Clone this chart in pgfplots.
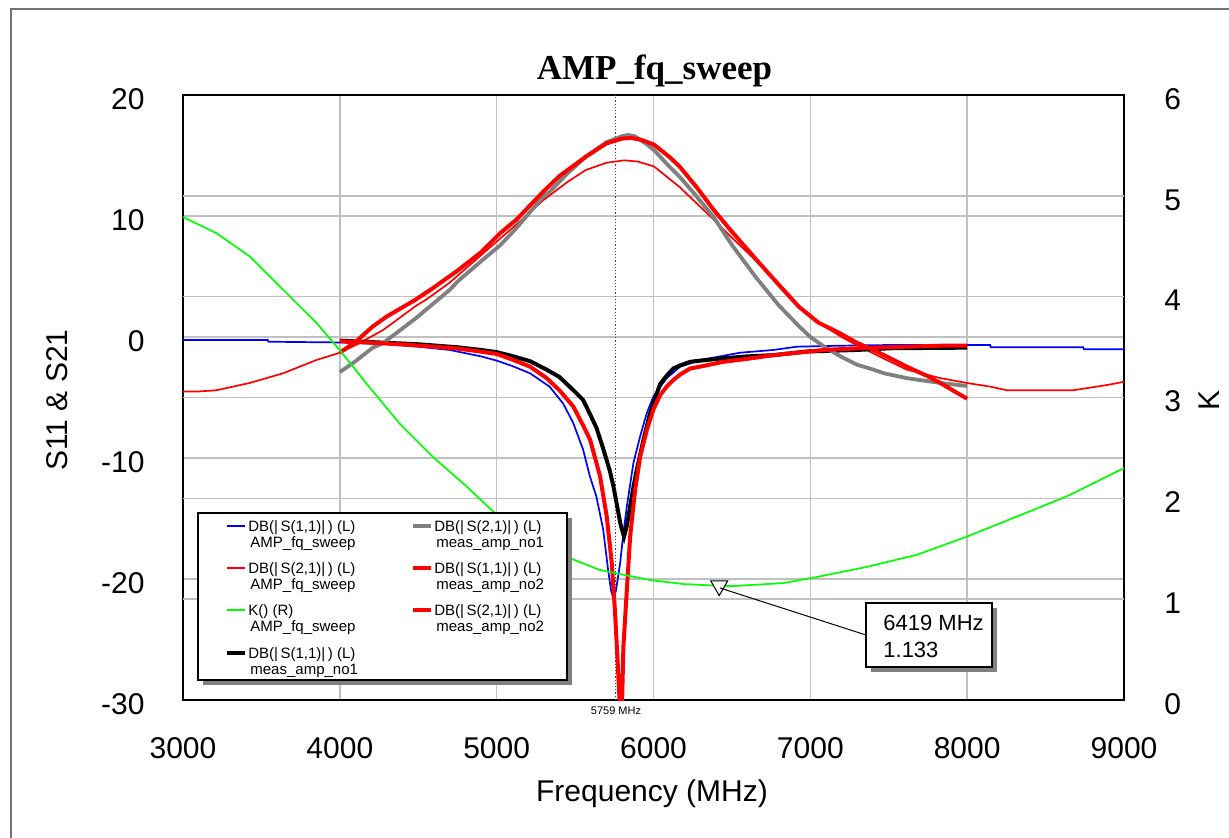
\documentclass[border=0pt]{standalone}
\usepackage{pgfplots}
\pgfplotsset{compat=1.18}
\usepackage{fontspec}
\setmainfont{Liberation Sans}
\newfontfamily\titlefont{Liberation Serif}
\definecolor{gridgray}{RGB}{192,192,192}
\definecolor{measgray}{RGB}{128,128,128}
\definecolor{kgreen}{RGB}{0,255,0}
\definecolor{sblue}{RGB}{0,0,255}
\definecolor{sred}{RGB}{255,0,0}
\newcommand{\legentry}[5]{%
  \draw[#3] (#1,#2) -- ++(18,0);
  \node[anchor=base west, inner sep=0pt] at ({#1+21},{#2+5.5}) {#4};
  \node[anchor=base west, inner sep=0pt] at ({#1+23},{#2+21.5}) {#5};
}
\begin{document}
\begin{tikzpicture}
\useasboundingbox (0,0) rectangle (614.5pt,418.5pt);
\clip (0,0) rectangle (614.5pt,418.5pt);
\begin{scope}[x=0.5pt,y=-0.5pt,shift={(0pt,418.5pt)}]
  \draw[black!55, line width=0.6pt] (11,9) rectangle (1260,870);
\end{scope}

% ---------------- left axis (S11 & S21, dB) ----------------
\begin{axis}[
  at={(91.5pt,68.5pt)}, anchor=south west,
  width=470.5pt, height=302.5pt, scale only axis,
  xmin=3000, xmax=9000, ymin=-30, ymax=20,
  xtick={3000,4000,...,9000}, ytick={-30,-20,...,20},
  extra y ticks={-21.6667,-13.3333,-5,3.3333,11.6667},
  extra y tick labels={},
  extra y tick style={grid=major},
  grid=major,
  major grid style={line width=0.75pt, color=gridgray},
  major tick length=0pt,
  axis line style={line width=1pt, black},
  /pgf/number format/assume math mode=true,
  /pgf/number format/set thousands separator={},
  tick label style={font=\fontsize{15}{18}\selectfont, inner sep=0pt},
  yticklabel style={anchor=east, xshift=-19pt, yshift=-2pt},
  xticklabel style={anchor=north, yshift=-18.5pt},
]
\draw[densely dotted, black!75, line width=0.6pt] (axis cs:5759,-30) -- (axis cs:5759,20);

% DB(|S(1,1)|) AMP_fq_sweep (blue, thin)
\addplot[sblue, line width=0.85pt] coordinates {
(3000,-0.25) (3540,-0.25) (3545,-0.39) (4000,-0.45) (4300,-0.6) (4500,-0.8)
(4700,-1.07) (4900,-1.6) (5000,-1.95) (5100,-2.4) (5213,-3.0) (5337,-4.1)
(5424,-5.5) (5488,-7.1) (5551,-9.3) (5594,-11.5) (5636,-13.2) (5679,-15.9)
(5711,-19.3) (5730,-21.0) (5745,-21.6) (5760,-21.0) (5787,-18.7) (5810,-16.0)
(5830,-14.0) (5872,-10.4) (5915,-8.2) (5957,-6.3) (6000,-4.9) (6084,-3.4)
(6170,-2.45) (6300,-1.9) (6425,-1.6) (6550,-1.3) (6765,-1.07) (6914,-0.80)
(7190,-0.72) (7509,-0.66) (8147,-0.66) (8150,-0.85) (8740,-0.85) (8745,-1.02) (9000,-1.02)
};
% DB(|S(2,1)|) AMP_fq_sweep (red, thin)
\addplot[sred, line width=0.85pt] coordinates {
(3000,-4.5) (3100,-4.5) (3213,-4.4) (3425,-3.8) (3638,-3.0) (3851,-1.9)
(4000,-1.3) (4127,-0.5) (4276,0.58) (4488,2.6) (4552,3.1) (4701,4.5)
(4913,6.9) (5126,9.3) (5296,11.3) (5450,12.8) (5568,13.8) (5700,14.4)
(5813,14.6) (5900,14.5) (6003,14.1) (6166,12.4) (6384,9.7) (6500,8.2)
(6655,6.3) (6800,4.4) (6927,2.5) (7100,0.8) (7199,0.0) (7300,-0.7)
(7470,-1.8) (7615,-2.7) (7829,-3.4) (7998,-3.8) (8147,-4.1) (8253,-4.4)
(8677,-4.4) (8891,-3.97) (9000,-3.7)
};
% DB(|S(1,1)|) meas_amp_no1 (black, thick)
\addplot[black, line width=2pt] coordinates {
(4000,-0.3) (4250,-0.45) (4500,-0.6) (4750,-0.85) (4900,-1.07) (5000,-1.25)
(5107,-1.6) (5213,-2.0) (5319,-2.7) (5400,-3.3) (5489,-4.4) (5551,-5.2)
(5596,-6.4) (5636,-7.5) (5681,-9.3) (5720,-11.0) (5744,-12.3) (5764,-13.7)
(5790,-15.5) (5812,-16.5) (5830,-15.6) (5851,-14.0) (5872,-12.4) (5893,-11.0)
(5936,-8.5) (5978,-6.3) (6021,-4.65) (6042,-3.9) (6084,-3.2) (6127,-2.6)
(6170,-2.35) (6234,-2.05) (6300,-1.95) (6446,-1.76) (6600,-1.6) (6765,-1.5)
(6978,-1.2) (7297,-1.07) (7509,-0.93) (8000,-0.88)
};
% DB(|S(2,1)|) meas_amp_no1 (gray, thick)
\addplot[measgray, line width=1.9pt] coordinates {
(4000,-2.9) (4100,-2.0) (4208,-0.9) (4276,-0.5) (4480,1.5) (4701,3.9)
(4752,4.6) (4913,6.4) (5024,7.6) (5126,9.0) (5296,11.6) (5338,12.0)
(5450,13.5) (5568,14.9) (5700,16.1) (5800,16.6) (5840,16.7) (5880,16.6)
(5950,16.0) (6003,15.45) (6100,14.1) (6166,13.25) (6250,12.0) (6384,9.9)
(6500,7.6) (6655,4.9) (6800,2.6) (6927,0.9) (7000,0.0) (7100,-0.9)
(7199,-1.65) (7300,-2.3) (7403,-2.7) (7470,-3.0) (7615,-3.4) (7829,-3.8) (8000,-4.05)
};
% DB(|S(1,1)|) meas_amp_no2 (red, thick)
\addplot[sred, line width=2pt] coordinates {
(4000,-0.35) (4250,-0.5) (4500,-0.7) (4750,-0.95) (4894,-1.2) (5000,-1.4)
(5107,-1.9) (5213,-2.45) (5319,-3.4) (5400,-4.4) (5489,-5.75) (5551,-7.3)
(5596,-8.5) (5659,-11.5) (5702,-14.85) (5734,-18.7) (5755,-22.8) (5772,-27)
(5787,-31) (5798,-31) (5808,-25.6) (5830,-20.9) (5851,-16.5) (5883,-12.6)
(5915,-9.9) (5957,-7.7) (5999,-6.0) (6042,-4.8) (6084,-4.1) (6127,-3.55)
(6170,-3.1) (6234,-2.6) (6297,-2.45) (6446,-2.05) (6600,-1.8) (6765,-1.5)
(7084,-1.07) (7403,-0.88) (7829,-0.72) (8000,-0.72)
};
% DB(|S(2,1)|) meas_amp_no2 (red, thick)
\addplot[sred, line width=2pt] coordinates {
(4000,-1.3) (4100,-0.4) (4208,0.85) (4300,1.7) (4480,3.06) (4600,4.1)
(4752,5.5) (4900,7.0) (5024,8.6) (5126,9.7) (5296,12.0) (5400,13.3)
(5568,14.9) (5700,16.0) (5800,16.4) (5860,16.45) (5920,16.3) (6003,15.9)
(6100,14.9) (6166,14.1) (6280,12.3) (6384,10.5) (6500,8.7) (6655,6.4)
(6800,4.3) (6927,2.5) (7050,1.2) (7190,0.3) (7300,-0.5) (7403,-1.07)
(7500,-1.7) (7615,-2.45) (7742,-3.2) (7829,-3.8) (7920,-4.5) (8000,-5.1)
};
\end{axis}

% ---------------- right axis (K) ----------------
\begin{axis}[
  at={(91.5pt,68.5pt)}, anchor=south west,
  width=470.5pt, height=302.5pt, scale only axis,
  xmin=3000, xmax=9000, ymin=0, ymax=6,
  hide x axis, axis y line*=right,
  y axis line style={draw=none},
  ytick={0,1,...,6}, major tick length=0pt,
  /pgf/number format/assume math mode=true,
  tick label style={font=\fontsize{15}{18}\selectfont, inner sep=0pt},
  yticklabel style={anchor=west, xshift=20pt, yshift=-2pt},
]
\addplot[kgreen, line width=0.85pt] coordinates {
(3000,4.79) (3213,4.63) (3425,4.40) (3638,4.07) (3851,3.74) (4000,3.47)
(4169,3.14) (4382,2.74) (4594,2.41) (4807,2.12) (4977,1.87) (5200,1.62)
(5445,1.42) (5658,1.29) (5977,1.19) (6191,1.15) (6419,1.133) (6510,1.13)
(6829,1.16) (7041,1.22) (7360,1.32) (7679,1.44) (7998,1.62) (8317,1.82)
(8636,2.02) (9000,2.30)
};
\addplot[only marks, mark=triangle*, mark size=4.9pt,
  mark options={rotate=180, fill=white, draw=black, line width=0.5pt}] coordinates {(6419,1.133)};
\end{axis}

% ---------------- annotations, legend, labels ----------------
\begin{scope}[x=0.5pt,y=-0.5pt,shift={(0pt,418.5pt)}]
  % marker readout
  \draw[black, line width=0.5pt] (720,588) -- (866,635);
  \fill[measgray] (871,608) rectangle (997,672);
  \filldraw[fill=white, draw=black, line width=0.6pt] (866,603) rectangle (992,667);
  \node[anchor=base west, inner sep=0pt, font=\fontsize{11}{13}\selectfont] at (883,630) {6419 MHz};
  \node[anchor=base west, inner sep=0pt, font=\fontsize{11}{13}\selectfont] at (883,657) {1.133};
  % marker frequency
  \node[inner sep=0pt, font=\fontsize{5.5}{6}\selectfont] at (616,711) {5759 MHz};
  % legend
  \fill[measgray] (203,518) rectangle (572,685);
  \filldraw[fill=white, draw=black, line width=0.6pt] (198,513) rectangle (567,680);
  \begin{scope}[font=\fontsize{7.5}{9}\selectfont]
    \legentry{227}{526}{sblue, line width=0.85pt}{DB(|\,S(1,1)|\,) (L)}{AMP\_fq\_sweep}
    \legentry{227}{568}{sred, line width=0.85pt}{DB(|\,S(2,1)|\,) (L)}{AMP\_fq\_sweep}
    \legentry{227}{610}{kgreen, line width=0.85pt}{K() (R)}{AMP\_fq\_sweep}
    \legentry{227}{653}{black, line width=2pt}{DB(|\,S(1,1)|\,) (L)}{meas\_amp\_no1}
    \legentry{413}{526}{measgray, line width=2pt}{DB(|\,S(2,1)|\,) (L)}{meas\_amp\_no1}
    \legentry{413}{568}{sred, line width=2pt}{DB(|\,S(1,1)|\,) (L)}{meas\_amp\_no2}
    \legentry{413}{610}{sred, line width=2pt}{DB(|\,S(2,1)|\,) (L)}{meas\_amp\_no2}
  \end{scope}
  % titles
  \node[anchor=base, inner sep=0pt, font=\titlefont\bfseries\fontsize{17.5}{20}\selectfont] at (654.5,79.5) {AMP\_fq\_sweep};
  \node[anchor=base, inner sep=0pt, font=\fontsize{15}{18}\selectfont] at (652,801) {Frequency (MHz)};
  \node[anchor=base, rotate=90, inner sep=0pt, font=\fontsize{15}{18}\selectfont] at (67,400) {S11 \& S21};
  \node[anchor=base, rotate=90, inner sep=0pt, font=\fontsize{15}{18}\selectfont] at (1219,400) {K};
\end{scope}
\end{tikzpicture}
\end{document}
